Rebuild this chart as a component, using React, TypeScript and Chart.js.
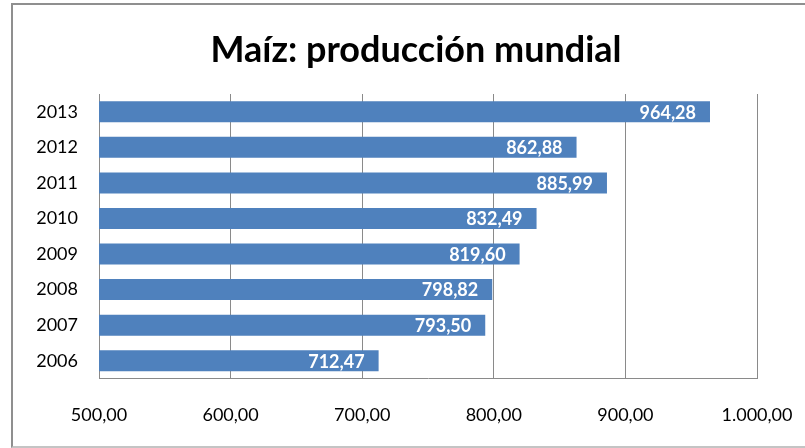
import React, { useEffect, useRef } from "react";
import { Chart, registerables } from "chart.js";

Chart.register(...registerables);

const years = ["2006", "2007", "2008", "2009", "2010", "2011", "2012", "2013"];
const production = [712.47, 793.5, 798.82, 819.6, 832.49, 885.99, 862.88, 964.28];
const xTicks = [500, 600, 700, 800, 900, 1000];
const titleText = "Maíz: producción mundial";

function fmt(v: number): string {
  const fixed = v.toFixed(2);
  const [intPart, dec] = fixed.split(".");
  const withDots = intPart.replace(/\B(?=(\d{3})+(?!\d))/g, ".");
  return withDots + "," + dec;
}

const FONT = "Lato, 'Open Sans', sans-serif";

const valueLabels = {
  id: "valueLabels",
  afterDatasetsDraw(chart: any) {
    const ctx = chart.ctx;
    const meta = chart.getDatasetMeta(0);
    const data = chart.data.datasets[0].data as number[];
    ctx.save();
    ctx.font = `bold 18px ${FONT}`;
    ctx.fillStyle = "#ffffff";
    ctx.textAlign = "right";
    ctx.textBaseline = "middle";
    meta.data.forEach((el: any, i: number) => {
      ctx.fillText(fmt(data[i]), el.x - 14, el.y + 1);
    });
    ctx.restore();
  },
};

export default function App() {
  const ref = useRef<HTMLCanvasElement | null>(null);
  useEffect(() => {
    if (!ref.current) return;
    const chart = new Chart(ref.current, {
      type: "bar",
      data: {
        labels: years,
        datasets: [
          {
            data: production,
            backgroundColor: "#4f81bd",
            borderWidth: 0,
            barPercentage: 0.59,
            categoryPercentage: 1,
          },
        ],
      },
      options: {
        indexAxis: "y",
        animation: false,
        responsive: false,
        maintainAspectRatio: false,
        layout: { padding: { left: 27, right: 0, top: 0, bottom: 0 } },
        plugins: {
          legend: { display: false },
          tooltip: { enabled: false },
          title: {
            display: true,
            text: titleText,
            color: "#000000",
            font: { family: FONT, size: 36, weight: "bold", lineHeight: 1.2 },
            padding: { top: 29, bottom: 21.8 },
          },
        },
        scales: {
          x: {
            type: "linear",
            min: 500,
            max: 1000,
            afterBuildTicks(scale: any) {
              scale.ticks = xTicks.map((v) => ({ value: v }));
            },
            afterFit(scale: any) {
              scale.height = 69.5;
              scale.paddingLeft = 0;
              scale.paddingRight = 48;
            },
            grid: { color: "#8a8a8a", lineWidth: 1, drawTicks: false },
            border: { display: true, color: "#8a8a8a", width: 1 },
            ticks: {
              color: "#000000",
              font: { family: FONT, size: 18 },
              padding: 26,
              callback: (v: any) => fmt(Number(v)),
              maxRotation: 0,
            },
          },
          y: {
            type: "category",
            reverse: true,
            afterFit(scale: any) {
              scale.width = 72;
            },
            grid: { display: false, drawTicks: false },
            border: { display: true, color: "#8a8a8a", width: 1 },
            ticks: {
              color: "#000000",
              font: { family: FONT, size: 18 },
              padding: 21,
            },
          },
        },
      },
      plugins: [valueLabels],
    });
    return () => chart.destroy();
  }, []);

  return (
    <div style={{ position: "fixed", left: 0, top: 0, width: 805, height: 448, background: "#ffffff" }}>
      <canvas ref={ref} width={805} height={448} style={{ position: "absolute", left: 0, top: 0 }} />
      <div
        style={{
          position: "absolute",
          left: 11,
          top: 3,
          width: 794,
          height: 441,
          borderLeft: "2px solid #8f8f8f",
          borderTop: "2px solid #8f8f8f",
          borderBottom: "2px solid #c4c4c4",
          pointerEvents: "none",
        }}
      />
    </div>
  );
}
